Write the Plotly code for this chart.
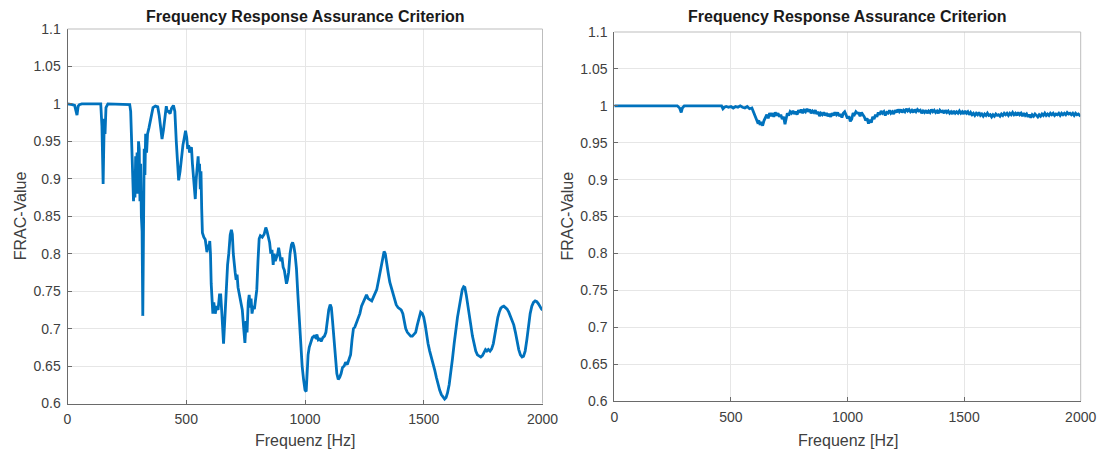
import plotly.graph_objects as go

# ---------------- data ----------------
left_points = [
    (0, 1.0), (10, 1.0), (20, 0.999), (30, 0.998), (35, 0.99), (40, 0.985), (45, 0.997), (50, 0.999),
    (60, 1.0), (100, 1.0), (140, 1.0), (145, 0.97), (148, 0.92), (150, 0.893), (152, 0.93), (155, 0.98),
    (158, 0.96), (162, 0.995), (170, 1.0), (200, 1.0), (240, 1.0), (262, 0.999), (266, 0.99), (270, 0.95),
    (273, 0.92), (276, 0.88), (278, 0.87), (281, 0.91), (284, 0.875), (287, 0.93), (290, 0.9), (293, 0.935),
    (296, 0.88), (299, 0.95), (302, 0.94), (305, 0.87), (308, 0.92), (311, 0.85), (314, 0.83), (317, 0.717),
    (320, 0.86), (323, 0.94), (326, 0.905), (329, 0.96), (333, 0.935), (337, 0.96), (343, 0.968), (350, 0.98),
    (360, 0.995), (370, 0.997), (380, 0.996), (386, 0.985), (392, 0.965), (398, 0.953), (404, 0.965), (410, 0.985),
    (416, 0.997), (420, 0.99), (426, 0.99), (432, 0.987), (438, 0.994), (446, 0.998), (452, 0.99), (458, 0.95),
    (464, 0.91), (468, 0.898), (474, 0.91), (480, 0.93), (486, 0.945), (492, 0.955), (497, 0.964), (502, 0.955),
    (506, 0.94), (510, 0.945), (514, 0.935), (518, 0.94), (522, 0.942), (526, 0.92), (530, 0.905), (534, 0.888),
    (538, 0.873), (542, 0.9), (546, 0.915), (550, 0.93), (553, 0.91), (556, 0.92), (559, 0.886), (562, 0.91),
    (565, 0.86), (568, 0.828), (574, 0.822), (580, 0.819), (584, 0.81), (587, 0.802), (591, 0.812), (595, 0.805),
    (599, 0.817), (602, 0.8), (605, 0.76), (608, 0.743), (612, 0.72), (616, 0.735), (619, 0.722), (622, 0.72),
    (628, 0.73), (634, 0.725), (640, 0.745), (645, 0.745), (650, 0.72), (654, 0.69), (657, 0.68), (662, 0.71),
    (668, 0.75), (674, 0.785), (679, 0.8), (685, 0.825), (690, 0.832), (694, 0.826), (698, 0.8), (702, 0.78),
    (706, 0.775), (710, 0.765), (714, 0.772), (718, 0.755), (724, 0.745), (730, 0.735), (736, 0.725), (742, 0.7),
    (747, 0.681), (752, 0.71), (756, 0.695), (761, 0.735), (765, 0.745), (769, 0.728), (773, 0.74), (777, 0.72),
    (782, 0.73), (787, 0.726), (792, 0.74), (797, 0.752), (802, 0.79), (807, 0.82), (812, 0.824), (820, 0.822),
    (828, 0.826), (835, 0.835), (840, 0.83), (846, 0.82), (851, 0.815), (856, 0.8), (861, 0.805), (866, 0.785),
    (870, 0.8), (875, 0.79), (880, 0.795), (885, 0.8), (889, 0.808), (894, 0.8), (898, 0.79), (903, 0.795),
    (908, 0.782), (913, 0.778), (918, 0.77), (922, 0.76), (926, 0.765), (931, 0.775), (937, 0.8), (943, 0.812),
    (948, 0.815), (953, 0.81), (958, 0.8), (964, 0.78), (970, 0.745), (976, 0.71), (982, 0.68), (988, 0.65),
    (994, 0.632), (1000, 0.618), (1005, 0.616), (1009, 0.64), (1013, 0.665), (1018, 0.675), (1024, 0.683), (1031, 0.688),
    (1038, 0.69), (1045, 0.688), (1050, 0.692), (1056, 0.685), (1062, 0.686), (1068, 0.683), (1075, 0.688), (1082, 0.69),
    (1088, 0.695), (1094, 0.71), (1100, 0.725), (1106, 0.732), (1111, 0.728), (1116, 0.71), (1122, 0.685), (1128, 0.66),
    (1134, 0.64), (1140, 0.632), (1146, 0.635), (1152, 0.64), (1158, 0.648), (1165, 0.65), (1171, 0.655), (1178, 0.652),
    (1185, 0.66), (1192, 0.665), (1198, 0.685), (1204, 0.7), (1210, 0.702), (1217, 0.708), (1224, 0.715), (1231, 0.72),
    (1238, 0.73), (1245, 0.735), (1252, 0.742), (1259, 0.745), (1266, 0.74), (1274, 0.738), (1281, 0.737), (1288, 0.742),
    (1295, 0.747), (1302, 0.752), (1310, 0.765), (1318, 0.78), (1326, 0.795), (1333, 0.803), (1338, 0.8), (1344, 0.785),
    (1350, 0.775), (1357, 0.762), (1364, 0.755), (1370, 0.748), (1377, 0.74), (1384, 0.732), (1392, 0.728), (1398, 0.726),
    (1405, 0.725), (1412, 0.72), (1418, 0.71), (1424, 0.7), (1431, 0.695), (1438, 0.692), (1445, 0.69), (1452, 0.69),
    (1459, 0.692), (1466, 0.695), (1473, 0.705), (1480, 0.715), (1487, 0.722), (1494, 0.72), (1500, 0.715), (1506, 0.705),
    (1512, 0.69), (1518, 0.68), (1525, 0.67), (1532, 0.662), (1539, 0.656), (1546, 0.645), (1553, 0.635), (1560, 0.625),
    (1567, 0.618), (1574, 0.612), (1581, 0.608), (1588, 0.606), (1594, 0.608), (1600, 0.614), (1607, 0.625), (1614, 0.64),
    (1621, 0.66), (1628, 0.68), (1635, 0.7), (1642, 0.715), (1649, 0.728), (1656, 0.742), (1662, 0.752), (1668, 0.756),
    (1673, 0.755), (1679, 0.745), (1685, 0.73), (1691, 0.718), (1698, 0.705), (1705, 0.69), (1712, 0.678), (1719, 0.67),
    (1726, 0.665), (1733, 0.663), (1740, 0.662), (1747, 0.664), (1754, 0.668), (1760, 0.672), (1766, 0.67), (1772, 0.672),
    (1779, 0.67), (1786, 0.673), (1793, 0.68), (1800, 0.695), (1806, 0.708), (1812, 0.715), (1818, 0.722), (1824, 0.727),
    (1830, 0.729), (1837, 0.73), (1844, 0.728), (1851, 0.726), (1858, 0.722), (1865, 0.717), (1872, 0.712), (1879, 0.705),
    (1886, 0.695), (1893, 0.682), (1900, 0.672), (1907, 0.665), (1914, 0.662), (1920, 0.663), (1927, 0.67), (1934, 0.685),
    (1941, 0.705), (1948, 0.72), (1955, 0.73), (1962, 0.735), (1969, 0.737), (1976, 0.736), (1983, 0.733), (1990, 0.728),
    (1996, 0.726), (2000, 0.725),
]

right_points = [
    (0, 1.0), (270, 1.0), (280, 0.997), (287, 0.991), (292, 0.997), (300, 1.0), (460, 1.0), (466, 0.996),
    (472, 0.998), (480, 0.999), (490, 0.998), (500, 0.999), (510, 0.997), (520, 0.999), (530, 0.998), (540, 1.0),
    (550, 0.998), (560, 0.997), (570, 0.999), (580, 0.996), (590, 0.997), (600, 0.99), (607, 0.985), (614, 0.978),
    (620, 0.98), (625, 0.974), (630, 0.978), (636, 0.973), (642, 0.98), (648, 0.985), (654, 0.988), (660, 0.983),
    (666, 0.99), (672, 0.986), (678, 0.99), (684, 0.985), (690, 0.991), (696, 0.987), (702, 0.99), (708, 0.985),
    (714, 0.988), (720, 0.982), (726, 0.985), (732, 0.975), (736, 0.98), (742, 0.99), (748, 0.987), (754, 0.992),
    (760, 0.99), (766, 0.993), (772, 0.989), (778, 0.992), (784, 0.988), (790, 0.994), (796, 0.991), (802, 0.995),
    (808, 0.99), (814, 0.994), (820, 0.992), (826, 0.996), (832, 0.992), (838, 0.995), (844, 0.99), (850, 0.993),
    (856, 0.991), (862, 0.994), (868, 0.989), (874, 0.992), (880, 0.986), (886, 0.99), (892, 0.988), (898, 0.991),
    (904, 0.987), (910, 0.99), (916, 0.986), (922, 0.989), (928, 0.985), (934, 0.99), (940, 0.987), (946, 0.991),
    (952, 0.988), (958, 0.991), (964, 0.986), (970, 0.989), (976, 0.984), (982, 0.99), (988, 0.992), (994, 0.987),
    (1000, 0.983), (1006, 0.986), (1012, 0.979), (1018, 0.982), (1024, 0.99), (1030, 0.988), (1036, 0.992), (1042, 0.99),
    (1048, 0.99), (1054, 0.986), (1060, 0.991), (1066, 0.988), (1072, 0.985), (1078, 0.98), (1084, 0.983), (1090, 0.976),
    (1096, 0.981), (1102, 0.977), (1108, 0.985), (1114, 0.982), (1120, 0.988), (1126, 0.985), (1132, 0.991), (1138, 0.988),
    (1144, 0.993), (1150, 0.99), (1156, 0.992), (1162, 0.987), (1168, 0.991), (1174, 0.99), (1180, 0.994), (1186, 0.99),
    (1192, 0.992), (1198, 0.989), (1204, 0.994), (1210, 0.991), (1216, 0.995), (1222, 0.992), (1228, 0.995), (1234, 0.991),
    (1240, 0.994), (1246, 0.992), (1252, 0.996), (1258, 0.993), (1264, 0.995), (1270, 0.992), (1276, 0.994), (1282, 0.991),
    (1288, 0.995), (1294, 0.992), (1300, 0.995), (1306, 0.993), (1312, 0.994), (1318, 0.99), (1324, 0.993), (1330, 0.991),
    (1336, 0.994), (1342, 0.99), (1348, 0.993), (1354, 0.991), (1360, 0.995), (1366, 0.992), (1372, 0.994), (1378, 0.991),
    (1384, 0.993), (1390, 0.99), (1396, 0.994), (1402, 0.992), (1408, 0.993), (1414, 0.99), (1420, 0.994), (1426, 0.991),
    (1432, 0.993), (1438, 0.99), (1444, 0.992), (1450, 0.989), (1456, 0.993), (1462, 0.99), (1468, 0.992), (1474, 0.99),
    (1480, 0.993), (1486, 0.99), (1492, 0.992), (1498, 0.989), (1504, 0.993), (1510, 0.99), (1516, 0.992), (1522, 0.988),
    (1528, 0.991), (1534, 0.988), (1540, 0.99), (1546, 0.987), (1552, 0.99), (1558, 0.988), (1564, 0.991), (1570, 0.987),
    (1576, 0.989), (1582, 0.986), (1588, 0.989), (1594, 0.987), (1600, 0.99), (1606, 0.987), (1612, 0.988), (1618, 0.985),
    (1624, 0.988), (1630, 0.986), (1636, 0.989), (1642, 0.987), (1648, 0.988), (1654, 0.986), (1660, 0.989), (1666, 0.987),
    (1672, 0.99), (1678, 0.988), (1684, 0.99), (1690, 0.987), (1696, 0.99), (1702, 0.988), (1708, 0.991), (1714, 0.988),
    (1720, 0.99), (1726, 0.987), (1732, 0.991), (1738, 0.988), (1744, 0.99), (1750, 0.986), (1756, 0.99), (1762, 0.987),
    (1768, 0.989), (1774, 0.985), (1780, 0.988), (1786, 0.984), (1792, 0.988), (1798, 0.986), (1804, 0.989), (1810, 0.987),
    (1816, 0.985), (1822, 0.988), (1828, 0.986), (1834, 0.989), (1840, 0.987), (1846, 0.99), (1852, 0.987), (1858, 0.989),
    (1864, 0.987), (1870, 0.99), (1876, 0.988), (1882, 0.99), (1888, 0.987), (1894, 0.989), (1900, 0.988), (1906, 0.99),
    (1912, 0.987), (1918, 0.99), (1924, 0.988), (1930, 0.99), (1936, 0.988), (1942, 0.991), (1948, 0.989), (1954, 0.99),
    (1960, 0.988), (1966, 0.99), (1972, 0.987), (1978, 0.99), (1984, 0.988), (1990, 0.989), (1996, 0.987), (2000, 0.988),
]

left_freq = [p[0] for p in left_points]
left_frac = [p[1] for p in left_points]
right_freq = [p[0] for p in right_points]
right_frac = [p[1] for p in right_points]

x_ticks = [0, 500, 1000, 1500, 2000]
x_tick_labels = ["0", "500", "1000", "1500", "2000"]
y_ticks = [0.6, 0.65, 0.7, 0.75, 0.8, 0.85, 0.9, 0.95, 1.0, 1.05, 1.1]
y_tick_labels = ["0.6", "0.65", "0.7", "0.75", "0.8", "0.85", "0.9", "0.95", "1", "1.05", "1.1"]

title_text = "Frequency Response Assurance Criterion"
x_title = "Frequenz [Hz]"
y_title = "FRAC-Value"

# ---------------- figure ----------------
W, H = 1099, 450
LINE = "#0072BD"
FONT = "Liberation Sans, Arial, Helvetica, sans-serif"
TICKC = "#404040"

left_px = (67.5, 542.5, 29, 403.5)   # x0, x1, ytop, ybottom
right_px = (614.3, 1080.7, 32, 401)

def dom(px):
    x0, x1, yt, yb = px
    return [x0 / W, x1 / W], [(H - yb) / H, (H - yt) / H]

lxd, lyd = dom(left_px)
rxd, ryd = dom(right_px)

fig = go.Figure()
fig.add_trace(go.Scatter(x=left_freq, y=left_frac, mode="lines",
                         line=dict(color=LINE, width=2.8), xaxis="x", yaxis="y",
                         showlegend=False, hoverinfo="skip"))
fig.add_trace(go.Scatter(x=right_freq, y=right_frac, mode="lines",
                         line=dict(color=LINE, width=2.8), xaxis="x2", yaxis="y2",
                         showlegend=False, hoverinfo="skip"))

axcommon = dict(showline=True, linecolor="#6a6a6a", linewidth=1, ticks="inside", ticklen=4,
                tickcolor="#6a6a6a", showgrid=True, gridcolor="#e6e6e6", gridwidth=1,
                zeroline=False, tickfont=dict(family=FONT, size=14, color=TICKC), fixedrange=True,
                automargin=False)
xextra = dict(ticklabelstandoff=3)
yextra = dict(ticklabelstandoff=3)

fig.update_layout(
    width=W, height=H, margin=dict(l=0, r=0, t=0, b=0, autoexpand=False),
    paper_bgcolor="white", plot_bgcolor="white",
    xaxis=dict(domain=lxd, range=[0, 2000], tickvals=x_ticks, ticktext=x_tick_labels,
               anchor="y", **axcommon, **xextra),
    yaxis=dict(domain=lyd, range=[0.6, 1.1], tickvals=y_ticks, ticktext=y_tick_labels,
               anchor="x", **axcommon, **yextra),
    xaxis2=dict(domain=rxd, range=[0, 2000], tickvals=x_ticks, ticktext=x_tick_labels,
                anchor="y2", **axcommon, **xextra),
    yaxis2=dict(domain=ryd, range=[0.6, 1.1], tickvals=y_ticks, ticktext=y_tick_labels,
                anchor="x2", **axcommon, **yextra),
)

# light top/right box edges
for xr, yr in (("x domain", "y domain"), ("x2 domain", "y2 domain")):
    fig.add_shape(type="line", xref=xr, yref=yr, x0=0, x1=1, y0=1, y1=1,
                  line=dict(color="#bdbdbd", width=1))
    fig.add_shape(type="line", xref=xr, yref=yr, x0=1, x1=1, y0=0, y1=1,
                  line=dict(color="#bdbdbd", width=1))

def add_texts(px, ylab_x):
    x0, x1, yt, yb = px
    cx = (x0 + x1) / 2 / W
    fig.add_annotation(text="<b>" + title_text + "</b>", x=cx, y=1 - 16 / H, xref="paper", yref="paper",
                       xanchor="center", yanchor="middle", showarrow=False,
                       font=dict(family=FONT, size=16, color="#1a1a1a"))
    fig.add_annotation(text=x_title, x=cx, y=1 - 440 / H, xref="paper", yref="paper",
                       xanchor="center", yanchor="middle", showarrow=False,
                       font=dict(family=FONT, size=16, color=TICKC))
    fig.add_annotation(text=y_title, x=ylab_x / W, y=1 - ((yt + yb) / 2) / H, xref="paper", yref="paper",
                       xanchor="center", yanchor="middle", showarrow=False, textangle=-90,
                       font=dict(family=FONT, size=16, color=TICKC))

add_texts(left_px, 20)
add_texts(right_px, 567)

fig.write_html("out.html", config={"displayModeBar": False},
               post_script="document.body.style.margin='0';document.body.style.overflow='hidden';")
